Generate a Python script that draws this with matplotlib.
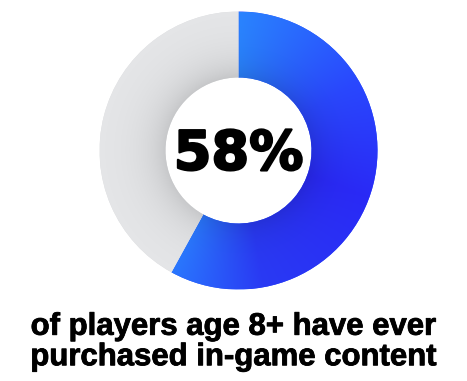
import numpy as np
import matplotlib
matplotlib.use("Agg")
import matplotlib.pyplot as plt
import matplotlib.patheffects as pe

# Share of players who have purchased in-game content
labels = ["Purchased", "Never purchased"]
values = [58, 42]
headline = "58%"
caption = "of players age 8+ have ever\npurchased in-game content"

W, H = 467, 381
fig = plt.figure(figsize=(W / 100, H / 100), dpi=100)
R = 139
cx, cy = 238.5, 150.5
ax = fig.add_axes([(cx - R) / W, (H - cy - R) / H, 2 * R / W, 2 * R / H])

inner = 73 / 139
wedges, _ = ax.pie(values, startangle=90, counterclock=False, radius=1,
                   wedgeprops=dict(width=1 - inner, linewidth=0),
                   colors=["#2a55ff", "#dcdddf"])
ax.set_xlim(-1, 1)
ax.set_ylim(-1, 1)
ax.set_aspect("equal")
ax.axis("off")

# colour fields for the two segments
n = 600
xs = np.linspace(-1, 1, n)
X, Y = np.meshgrid(xs, xs[::-1])
rad = np.hypot(X, Y)
ang = (np.degrees(np.arctan2(X, Y)) % 360)  # clockwise from top
rn = np.clip((rad - inner) / (1 - inner), 0, 1)


def hexrgb(h):
    return np.array([int(h[i:i + 2], 16) / 255 for i in (1, 3, 5)])


# blue: light at the ends, deep in the middle, darker toward the hole
stops = [(0, "#2a84ff"), (60, "#2a48ff"), (110, "#2a2af7"), (170, "#2a3af5"),
         (209, "#2a78ff"), (360, "#2a78ff")]
sa = np.array([s[0] for s in stops], float)
sc = np.array([hexrgb(s[1]) for s in stops])
blue = np.stack([np.interp(ang, sa, sc[:, k]) for k in range(3)], -1)
shade = 1 - 0.12 * np.exp(-rn * 3.5)
blue = blue * shade[..., None]

g_out = hexrgb("#e6e7e9")
g_in = hexrgb("#c6c7c9")
t = np.exp(-rn * 3.0)[..., None]
gray = g_out * (1 - t) + g_in * t

for img, w in ((blue, wedges[0]), (gray, wedges[1])):
    im = ax.imshow(np.clip(img, 0, 1), extent=(-1, 1, -1, 1),
                   interpolation="bilinear", zorder=2)
    im.set_clip_path(w)

ax.text(0, -0.03, headline, ha="center", va="center", fontsize=39,
        fontweight="heavy", family=["DejaVu Sans"], color="black", zorder=5,
        path_effects=[pe.withStroke(linewidth=1.6, foreground="black")])

fig.text(0.5, 1 - 342 / H, caption, ha="center", va="center", fontsize=22.4,
         fontweight="bold", family=["Liberation Sans", "DejaVu Sans"],
         linespacing=1.02, color="black",
         path_effects=[pe.withStroke(linewidth=0.6, foreground="black")])

fig.savefig("out.png", dpi=100, facecolor="white")
